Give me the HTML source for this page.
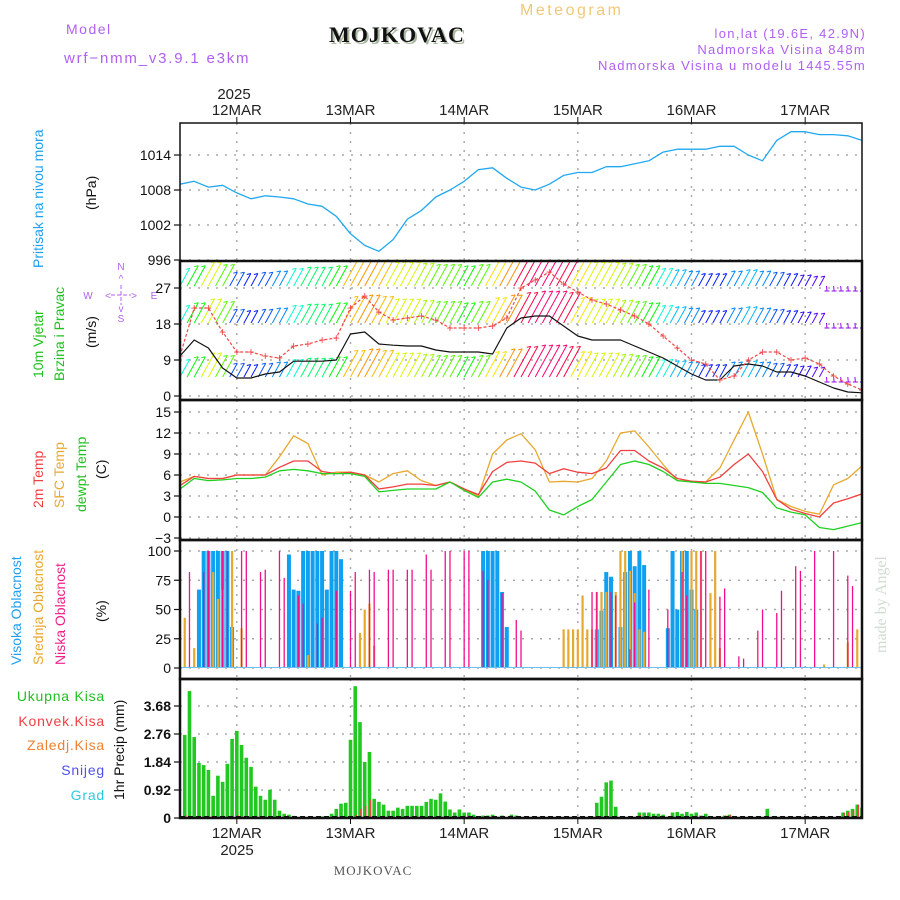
<!DOCTYPE html>
<html><head><meta charset="utf-8">
<style>
html,body{margin:0;padding:0;background:#fff;}
svg{display:block;}
text{font-family:"Liberation Sans",sans-serif;}
.serif{font-family:"Liberation Serif",serif;}
</style></head>
<body>
<svg id="chart" xmlns="http://www.w3.org/2000/svg" width="900" height="900" viewBox="0 0 900 900">
<defs>
<clipPath id="cp1"><rect x="180" y="123" width="682" height="138"/></clipPath>
<clipPath id="cp2"><rect x="180" y="261" width="682" height="139"/></clipPath>
<clipPath id="cp3"><rect x="180" y="400" width="682" height="140"/></clipPath>
<clipPath id="cp4"><rect x="180" y="540" width="682" height="139"/></clipPath>
<clipPath id="cp5"><rect x="180" y="679" width="682" height="139"/></clipPath>
</defs>
<text x="66" y="34" font-size="14" fill="#b060f0" letter-spacing="1.5">Model</text>
<text x="64" y="63" font-size="15" fill="#b060f0" letter-spacing="1.8">wrf−nmm_v3.9.1 e3km</text>
<text class="serif" x="331" y="44" font-size="22" font-weight="bold" fill="#a8b8a0" letter-spacing="1">MOJKOVAC</text>
<text class="serif" x="329" y="42" font-size="22" font-weight="bold" fill="#111" letter-spacing="1">MOJKOVAC</text>
<text x="520" y="15" font-size="16" fill="#f0c878" letter-spacing="2.5">Meteogram</text>
<text x="866" y="38" font-size="13" fill="#b060f0" text-anchor="end" letter-spacing="1.3">lon,lat (19.6E, 42.9N)</text>
<text x="866" y="54" font-size="13" fill="#b060f0" text-anchor="end" letter-spacing="1.3">Nadmorska Visina 848m</text>
<text x="866" y="70" font-size="13" fill="#b060f0" text-anchor="end" letter-spacing="1.3">Nadmorska Visina u modelu 1445.55m</text>
<text x="234" y="99" font-size="15" fill="#222" text-anchor="middle">2025</text>
<text x="237" y="855" font-size="15" fill="#222" text-anchor="middle">2025</text>
<text class="serif" x="373" y="875" font-size="13" fill="#555" text-anchor="middle" letter-spacing="1">MOJKOVAC</text>
<text class="serif" transform="translate(886,653) rotate(-90)" font-size="16" fill="#d0dcd0">made by Angel</text>

<text transform="translate(43,268) rotate(-90)" font-size="14" fill="#20a0f0">Pritisak na nivou mora</text>
<text transform="translate(96,210) rotate(-90)" font-size="14" fill="#111">(hPa)</text>
<text transform="translate(43,378) rotate(-90)" font-size="14" fill="#20c020">10m Vjetar</text>
<text transform="translate(64,381) rotate(-90)" font-size="14" fill="#20c020">Brzina i Pravac</text>
<text transform="translate(96,348) rotate(-90)" font-size="14" fill="#111">(m/s)</text>
<g fill="#b060f0" font-size="10" text-anchor="middle">
<text x="121" y="270">N</text><text x="121" y="322">S</text><text x="88" y="299">W</text><text x="154" y="299">E</text>
<text x="121" y="282">^</text><text x="121" y="312">v</text>
<text x="108" y="299">&lt;</text><text x="134" y="299">&gt;</text>
<line x1="111" y1="295" x2="131" y2="295" stroke="#b060f0" stroke-dasharray="4,2"/>
<line x1="121" y1="285" x2="121" y2="305" stroke="#b060f0" stroke-dasharray="4,2"/>
</g>
<text transform="translate(43,508) rotate(-90)" font-size="14" fill="#f04040">2m Temp</text>
<text transform="translate(64,508) rotate(-90)" font-size="14" fill="#e8a830">SFC Temp</text>
<text transform="translate(86,512) rotate(-90)" font-size="14" fill="#20c020">dewpt Temp</text>
<text transform="translate(106,479) rotate(-90)" font-size="14" fill="#111">(C)</text>
<text transform="translate(21,665) rotate(-90)" font-size="14" fill="#20a0f0">Visoka Oblacnost</text>
<text transform="translate(43,665) rotate(-90)" font-size="14" fill="#e8a830">Srednja Oblacnost</text>
<text transform="translate(65,665) rotate(-90)" font-size="14" fill="#f0208a">Niska Oblacnost</text>
<text transform="translate(106,622) rotate(-90)" font-size="14" fill="#111">(%)</text>
<g font-size="14" text-anchor="end" letter-spacing="0.8">
<text x="105" y="701" fill="#20c020">Ukupna Kisa</text>
<text x="105" y="726" fill="#f04040">Konvek.Kisa</text>
<text x="105" y="750" fill="#f08030">Zaledj.Kisa</text>
<text x="105" y="775" fill="#5050f0">Snijeg</text>
<text x="105" y="800" fill="#30c8e0">Grad</text>
</g>
<text transform="translate(124,800) rotate(-90)" font-size="14" fill="#111">1hr Precip (mm)</text>
<g id="plots"></g>
</svg>
<script>
// ---- data (time index in hours from 11MAR 12UTC, 3-hour steps for lines) ----
const dayLabels = ["12MAR","13MAR","14MAR","15MAR","16MAR","17MAR"];
const dayHours = [12,36,60,84,108,132];
const pressure = [1009,1009.5,1008.5,1008.8,1007.5,1006.5,1007,1006.8,1006.5,1005.6,1005.2,1003.5,1000.5,998.5,997.5,999.5,1003,1004.5,1006.8,1008,1009.5,1011.5,1011.8,1010,1008.5,1008,1009,1010.5,1011,1011,1012,1012,1012.5,1013,1014.5,1015,1015,1015,1015.5,1015.5,1014,1013,1016.5,1018,1018,1017.5,1017.5,1017.3,1016.5];
const windSpeed = [10,14,12,7,4.5,4.5,5.5,6,8.7,8.7,8.7,9,15.5,16,13,12.7,12.5,12.5,11.5,11,11,11,10.5,17,19.5,20,20,17.5,15,14,14,14,12.5,11,9.5,7.5,5.5,4,4,7.5,8,7.5,6,6,5,3.5,2,1,0.8];
const windGust = [10,22,22,16,11,11,10,9.5,12.5,13,14,14.5,22,25,21,19,19.5,20,19,17,17,17,17.5,19.5,27,29,31,28,26,24,23,21.5,20,18,15,12,9,8,4,5,9,11,11,9,9.5,8,5,3,1.5];
const arrowSpeed = [9,11,14,12,6,5,6,7,9,10,10,11,16,17,16,14,14,13,12,12,11,12,15,17,19,20,20,19,15,14,14,13,12,11,9,8,7,5,5,7,8,7,6,5,4,3,2,2,2];
const temp2m = [4.5,5.8,5.5,5.5,6,6,6,7.1,8,8,6.5,6.2,6.4,6,4,4.3,4.7,4.7,4.5,5,4,3.2,6.5,7.8,8,7.7,6.2,6.9,6.4,6.2,7,9.5,9.5,8,7,5.5,5.1,5,5.7,7.5,9,6.5,2.5,1.1,0.5,0,2,2.6,3.3];
const tempSfc = [5,5.8,5.5,5.5,6,6,6,8.6,11.6,10.5,6,6.4,6.4,6,5,6.2,6.6,5.2,4.5,5,4,3,9,11,11.9,9.6,5,5.1,5,5.5,8,12,12.3,10,7.5,5.2,5.1,5,7,11,15,9,2.5,1.5,0.8,0.4,4.6,5.5,7.3];
const tempDew = [4,5.5,5.2,5.3,5.5,5.5,5.7,6.6,6.8,6.6,6.2,6.2,6.2,5.8,3.6,3.8,4,4,4,5,3.8,2.8,5,5.4,5,3.7,1,0.3,1.5,2.5,5,7.5,8,7.5,6.5,5.2,5,4.8,4.8,4.5,4.2,3.5,1.3,0.7,0.3,-1.5,-1.8,-1.3,-0.8];
const highCloudHours = [4,5,6,7,8,9,10,11,23,24,25,26,27,28,29,30,31,32,33,34,64,65,66,67,68,69,88,89,90,91,93,94,95,96,97,98,103,104,105,106,107,108,109];
const highCloudVals = [67,100,100,100,100,100,100,35,97,67,66,100,100,100,100,100,67,100,100,93,100,100,100,100,65,35,33,49,82,78,35,82,100,87,100,88,34,100,50,100,100,67,50];
const midCloudHours = [1,3,7,8,9,11,13,27,38,39,40,41,81,82,83,84,85,86,87,88,89,90,92,93,94,95,96,97,98,106,108,109,110,112,113,114,136,141,143];
const midCloudVals = [43,17,82,59,67,100,34,11,30,50,55,19,33,33,33,33,62,33,33,65,65,65,65,100,100,83,64,33,31,100,100,100,100,64,100,17,3,22,33];
const lowCloudHours = [2,5,6,9,10,13,14,17,18,21,22,25,26,29,30,33,36,37,40,41,44,45,48,49,52,53,56,57,60,61,64,65,68,71,72,87,88,91,92,95,96,99,103,106,107,110,111,114,115,118,119,122,123,126,127,130,131,134,138,141,142];
const lowCloudVals = [82,82,100,100,100,100,100,82,84,100,77,62,55,38,43,66,66,82,84,82,84,84,84,84,97,84,100,100,100,100,83,75,64,41,32,65,65,65,62,16,56,67,50,82,62,100,100,61,68,10,8,32,50,47,66,87,83,100,100,79,70];
const precipTotal = [0,2.73,4.17,2.66,1.81,1.74,1.58,0.73,1.39,1.19,1.78,2.6,2.86,2.4,1.98,1.68,1.03,0.73,0.6,0.93,0.6,0.24,0.14,0.11,0.07,0,0,0,0,0,0.05,0.05,0.14,0.3,0.47,0.5,2.57,4.33,3.15,1.84,2.17,0.63,0.53,0.44,0.24,0.24,0.34,0.3,0.4,0.4,0.4,0.4,0.53,0.63,0.6,0.81,0.54,0.28,0.18,0.28,0.18,0.18,0.11,0.04,0.08,0.08,0.11,0.04,0.08,0,0.11,0.08,0,0,0,0,0,0,0,0,0,0,0,0,0,0,0,0.04,0.5,0.7,1.17,1.23,0.37,0.04,0,0,0.04,0.18,0.18,0.18,0.14,0.14,0.11,0.04,0.18,0.2,0.14,0.2,0.14,0.18,0.08,0.14,0.04,0.02,0,0.08,0.11,0,0,0,0,0,0,0,0.3,0.04,0,0,0,0,0,0,0,0,0,0,0,0,0,0.04,0.18,0.24,0.3,0.44,0.34];
const convHours = [1,12,13,14,37,38,39,40,41,97,115,116,140,141,142,143,144];
const convVals = [0.1,0.1,0.05,0.05,0.1,0.3,0.4,0.6,0.05,0.1,0.08,0.1,0.18,0.2,0.25,0.44,0.34];
const pTicks = [996,1002,1008,1014];
const wTicks = [0,9,18,27];
const tTicks = [-3,0,3,6,9,12,15];
const cTicks = [0,25,50,75,100];
const rTicks = [0,0.92,1.84,2.76,3.68];

// ---- axes ----
const NS="http://www.w3.org/2000/svg";
const X0=180, X1=862, HOURS=144;
const X = h => X0 + h*(X1-X0)/HOURS;
const yP = v => 155 - (v-1014)*35/6;
const yW = v => 396 - v*4;
const yT = v => 517 - v*7;
const yC = v => 668 - v*1.17;
const yR = v => 818 - v*112/3.68;
const root=document.getElementById('plots');
function el(tag,parent){const e=document.createElementNS(NS,tag);(parent||root).appendChild(e);return e;}
function attr(e,o){for(const k in o)e.setAttribute(k,o[k]);return e;}

const panels=[
 {top:123,bot:261,ticks:pTicks,y:yP,fmt:v=>String(v),name:'pressure'},
 {top:261,bot:400,ticks:wTicks,y:yW,fmt:v=>String(v),name:'wind'},
 {top:400,bot:540,ticks:tTicks,y:yT,fmt:v=>v<0?'−'+(-v):String(v),name:'temperature'},
 {top:540,bot:679,ticks:cTicks,y:yC,fmt:v=>String(v),name:'cloud'},
 {top:679,bot:818,ticks:rTicks,y:yR,fmt:v=>v===0?'0':v.toFixed(2),name:'precip'}
];
panels.forEach(p=>{
  const g=el('g');
  
  
  p.ticks.forEach(v=>{
    const yy=p.y(v);
    const gl=attr(el('line',g),{x1:X0,x2:X1,y1:yy,y2:yy,stroke:'#aaa','stroke-width':1.5,'stroke-dasharray':'2,7'});
    
    
    attr(el('line',g),{x1:X0-6,x2:X0,y1:yy,y2:yy,stroke:'#111','stroke-width':1.2});
    const t=attr(el('text',g),{x:X0-9,y:yy+5,'text-anchor':'end','font-size':14,fill:'#111','font-weight':p.name==='precip'?'bold':'normal'});
    t.textContent=p.fmt(v);
    
    
  });
  dayHours.forEach(h=>{
    const vl=attr(el('line',g),{x1:X(h),x2:X(h),y1:p.top,y2:p.bot,stroke:'#aaa','stroke-width':1.5,'stroke-dasharray':'2,7'});
    
    
  });
});
dayHours.forEach((h,i)=>{
  const t1=attr(el('text'),{x:X(h),y:115,'text-anchor':'middle','font-size':15,fill:'#222'});
  t1.textContent=dayLabels[i];
  
  
  attr(el('line'),{x1:X(h),x2:X(h),y1:117,y2:123,stroke:'#111'});
  const t2=attr(el('text'),{x:X(h),y:838,'text-anchor':'middle','font-size':15,fill:'#222'});
  t2.textContent=dayLabels[i];
  
  
  attr(el('line'),{x1:X(h),x2:X(h),y1:818,y2:824,stroke:'#111'});
});

function path(vals,yf,color,w,clip,name,dash){
  let d='';vals.forEach((v,i)=>{d+=(i?'L':'M')+X(i*3).toFixed(1)+','+yf(v).toFixed(1);});
  const p=attr(el('path'),{d:d,fill:'none',stroke:color,'stroke-width':w,'clip-path':'url(#'+clip+')','stroke-linejoin':'round'});
  if(dash)p.setAttribute('stroke-dasharray',dash);
  
  
  return p;
}
// pressure
path(pressure,yP,'#20a8f0',1.3,'cp1','pressure-line');

// wind arrows
function hue(s){
  const stops=[[2,275],[5,235],[8,195],[11,120],[13,80],[15,55],[17,35],[19,345],[21,320]];
  if(s<=stops[0][0])return stops[0][1];
  for(let i=1;i<stops.length;i++){if(s<=stops[i][0]){const a=stops[i-1],b=stops[i];let ha=a[1],hb=b[1];if(hb-ha>180)ha+=360;if(ha-hb>180)hb+=360;return (ha+(hb-ha)*(s-a[0])/(b[0]-a[0])+360)%360;}}
  return 320;
}
const wg=el('g');


wg.setAttribute('clip-path','url(#cp2)');
[286,323,377].forEach(base=>{
  for(let h=0;h<=HOURS;h+=1.5){
    const s=arrowSpeed[Math.min(arrowSpeed.length-1,Math.round(h/3))];
    const col='hsl('+hue(s).toFixed(0)+',95%,50%)';
    const x=X(h);
    const weak=s<3;
    const dy=weak?-5:(6+s*1.3), dx=weak?0.5:dy*0.55;
    const ln=attr(el('line',wg),{x1:x,y1:base,x2:x+dx,y2:base-dy,stroke:col,'stroke-width':1});
    
    
    if(weak){attr(el('line',wg),{x1:x-2,y1:base+5,x2:x+3,y2:base+5,stroke:col,'stroke-width':1});}
    else{attr(el('line',wg),{x1:x+dx,y1:base-dy,x2:x+dx-4,y2:base-dy+1,stroke:col,'stroke-width':1});}
  }
});
path(windSpeed,yW,'#111',1.2,'cp2','wind-speed-line');
path(windGust,yW,'#f04848',1.2,'cp2','wind-gust-line','3,2');
windGust.forEach((v,i)=>{
  const m=attr(el('text'),{x:X(i*3),y:yW(v)+4,'text-anchor':'middle','font-size':12,fill:'#f04848','clip-path':'url(#cp2)'});
  m.textContent='+';
  
  
});
// temperature
path(tempSfc,yT,'#e8a830',1.3,'cp3','sfc-temp-line');
path(temp2m,yT,'#f04040',1.3,'cp3','temp-2m-line');
path(tempDew,yT,'#20d020',1.3,'cp3','dewpoint-line');
// clouds
function bars(hours,vals,color,w,off,name,yf,zero,clip){
  hours.forEach((h,i)=>{
    const y=yf(vals[i]);
    const r=attr(el('rect'),{x:X(h)-w/2+off,y:y,width:w,height:Math.max(0,zero-y),fill:color,'clip-path':'url(#'+clip+')'});
    
    
  });
}
bars(highCloudHours,highCloudVals,'#10a0f0',4,0,'high-cloud-bar',yC,668,'cp4');
bars(midCloudHours,midCloudVals,'#e8a830',2.2,0,'mid-cloud-bar',yC,668,'cp4');
bars(lowCloudHours,lowCloudVals,'#f0108a',1.3,0,'low-cloud-bar',yC,668,'cp4');
attr(el('line'),{x1:X0,x2:X1,y1:667.5,y2:667.5,stroke:'#6cc0f0','stroke-width':1});
// precip
const ph=precipTotal.map((v,i)=>i);
bars(ph.filter(i=>precipTotal[i]>0),ph.filter(i=>precipTotal[i]>0).map(i=>precipTotal[i]),'#20c820',3.6,0,'precip-total-bar',yR,818,'cp5');
bars(convHours,convVals,'#f04040',1.6,1,'convective-precip-bar',yR,818,'cp5');
attr(el('line'),{x1:X0,x2:X1,y1:817,y2:817,stroke:'#111','stroke-width':2,'stroke-dasharray':'5,3'});

// frames
panels.forEach(p=>{
  const r=attr(el('rect'),{x:X0,y:p.top,width:X1-X0,height:p.bot-p.top,fill:'none',stroke:'#111','stroke-width':p.name==='pressure'?1.5:2.5});
  
  
});
</script>
</body></html>
